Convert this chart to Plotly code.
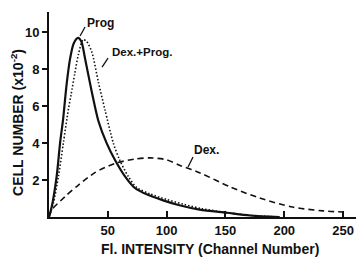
import plotly.graph_objects as go

# Prog (solid)
prog_x = [0, 2.3, 6.5, 9.4, 12, 15, 18, 21, 24.7, 27.5, 30.6, 36.3, 42, 49, 56, 64.6, 73, 84, 97, 110, 128, 151, 171, 196]
prog_y = [0, 0.55, 2.2, 4.0, 5.3, 7.2, 8.6, 9.4, 9.7, 9.5, 8.6, 6.8, 5.2, 4.0, 3.1, 2.2, 1.57, 1.2, 0.9, 0.65, 0.4, 0.23, 0.08, 0]

# Dex. + Prog. (dotted)
dexprog_x = [0, 3.7, 8, 12.2, 16.4, 18.7, 22, 25, 29, 32, 36.3, 42, 47.6, 54.7, 60, 67.4, 74.5, 86, 100, 115, 130, 150, 172, 196]
dexprog_y = [0, 0.75, 2.2, 4.0, 5.8, 6.6, 7.8, 8.8, 9.6, 9.5, 8.95, 7.3, 5.8, 4.0, 3.1, 2.2, 1.6, 1.25, 0.95, 0.68, 0.45, 0.25, 0.08, 0]

# Dex. (dashed)
dex_x = [0, 2.3, 13.6, 25, 39, 56, 73, 86, 100, 111, 128, 154, 179, 207, 233, 250]
dex_y = [0, 0.38, 1.1, 1.73, 2.4, 2.9, 3.14, 3.2, 3.1, 2.8, 2.4, 1.63, 1.03, 0.54, 0.33, 0.27]

x_ticks = [50, 100, 150, 200, 250]
y_ticks = [2, 4, 6, 8, 10]

# curve labels: text, text position, leader head, leader tail offset (px, up positive)
labels = ["Prog", "Dex.+Prog.", "Dex."]
label_pos = [(43.4, 10.5), (79.0, 8.93), (133.5, 3.63)]
leader_head = [(26.4, 9.8), (45.1, 8.12), (118.2, 2.71)]
leader_off = [(5, 9), (6, 9), (5, 10)]

FONT = "Liberation Sans"
INK = "#111111"

fig = go.Figure()
fig.add_trace(go.Scatter(x=dex_x, y=dex_y, mode="lines",
                         line=dict(color=INK, width=1.6, dash="6px,4px", shape="spline", smoothing=0.8)))
fig.add_trace(go.Scatter(x=dexprog_x, y=dexprog_y, mode="lines",
                         line=dict(color=INK, width=1.6, dash="1.5px,2px", shape="spline", smoothing=0.8)))
fig.add_trace(go.Scatter(x=prog_x, y=prog_y, mode="lines",
                         line=dict(color=INK, width=2.2, shape="spline", smoothing=0.8)))

fig.update_layout(
    width=358, height=258,
    margin=dict(l=49, r=2, t=12, b=41),
    paper_bgcolor="white", plot_bgcolor="white",
    showlegend=False,
    font=dict(family=FONT, size=13, color=INK, weight="bold"),
    xaxis=dict(range=[0, 261], tickvals=x_ticks, ticktext=[str(v) for v in x_ticks],
               ticks="inside", ticklen=6, tickwidth=1.5, tickcolor=INK,
               showline=True, linecolor=INK, linewidth=2, showgrid=False, zeroline=False,
               tickfont=dict(family=FONT, size=13, color=INK, weight="bold")),
    yaxis=dict(range=[0, 11.1], tickvals=y_ticks, ticktext=[str(v) for v in y_ticks],
               ticks="outside", ticklen=5, tickwidth=1.5, tickcolor=INK,
               showline=True, linecolor=INK, linewidth=2, showgrid=False, zeroline=False,
               tickfont=dict(family=FONT, size=13, color=INK, weight="bold")),
)

annotations = [
    dict(x=0.524, y=0, xref="paper", yref="paper", xanchor="center", yanchor="middle", yshift=-32,
         text="Fl. INTENSITY (Channel Number)", showarrow=False,
         font=dict(family=FONT, size=14, color=INK, weight="bold")),
    dict(x=0, y=0.459, xref="paper", yref="paper", xanchor="center", yanchor="middle", xshift=-32,
         text="CELL NUMBER (x10<sup>-2</sup>)", textangle=-90, showarrow=False,
         font=dict(family=FONT, size=14, color=INK, weight="bold")),
]
shapes = []
for txt, (tx, ty), (hx, hy), (ox, oy) in zip(labels, label_pos, leader_head, leader_off):
    annotations.append(dict(x=tx, y=ty, text=txt, showarrow=False, xanchor="center", yanchor="middle",
                            font=dict(family=FONT, size=12 if txt != "Dex.+Prog." else 11.5,
                                      color=INK, weight="bold")))
    shapes.append(dict(type="line", xref="x", yref="y", xsizemode="pixel", ysizemode="pixel",
                       xanchor=hx, yanchor=hy, x0=0, y0=0, x1=ox, y1=oy,
                       line=dict(color=INK, width=1.3)))
fig.update_layout(annotations=annotations, shapes=shapes)

fig.write_html("out.html", post_script="document.body.style.margin='0';",
               config={"displayModeBar": False})
